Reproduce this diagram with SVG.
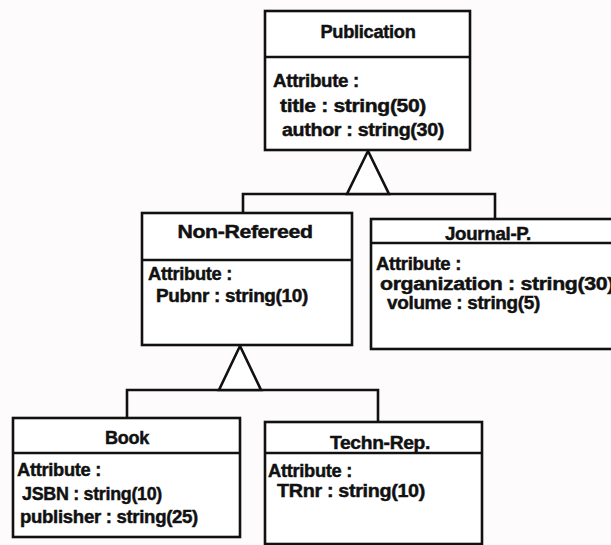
<svg xmlns="http://www.w3.org/2000/svg" width="611" height="545" viewBox="0 0 611 545">
  <style>
    .box { fill: #ffffff; stroke: #111111; stroke-width: 2.6; }
    .div { stroke: #111111; stroke-width: 2.6; fill: none; }
    .conn { stroke: #111111; stroke-width: 2.6; fill: none; stroke-linejoin: miter; }
    .tri { fill: #ffffff; stroke: #111111; stroke-width: 2.6; stroke-linejoin: miter; }
    text { font-family: "Liberation Sans", Arial, sans-serif; font-weight: bold; font-size: 18px; fill: #111111; stroke: #111111; stroke-width: 0.45; letter-spacing: -0.3px; }
    .name { text-anchor: middle; }
  </style>
  <rect width="611" height="545" fill="#fdfbfb"/>

  <!-- generalization connectors -->
  <g id="connectors">
    <polyline class="conn" points="243,213 243,194 495,194 495,219"/>
    <polygon class="tri" points="368,151 347,194 389,194"/>
    <polyline class="conn" points="127,418 127,390 378,390 378,422"/>
    <polygon class="tri" points="240,346 219,390 261,390"/>
  </g>

  <g id="publication">
    <rect class="box" x="265" y="11" width="205" height="139"/>
    <line class="div" x1="265" y1="57" x2="470" y2="57"/>
    <text class="name" x="368" y="38" textLength="95" lengthAdjust="spacingAndGlyphs">Publication</text>
    <text x="273" y="87" textLength="86" lengthAdjust="spacingAndGlyphs">Attribute :</text>
    <text x="280" y="112" textLength="146" lengthAdjust="spacingAndGlyphs">title : string(50)</text>
    <text x="282" y="136" textLength="162" lengthAdjust="spacingAndGlyphs">author : string(30)</text>
  </g>

  <g id="non-refereed">
    <rect class="box" x="142" y="213" width="210" height="132"/>
    <line class="div" x1="142" y1="260" x2="352" y2="260"/>
    <text class="name" x="245" y="238" textLength="135" lengthAdjust="spacingAndGlyphs">Non-Refereed</text>
    <text x="148" y="280" textLength="84" lengthAdjust="spacingAndGlyphs">Attribute :</text>
    <text x="156" y="302" textLength="152" lengthAdjust="spacingAndGlyphs">Pubnr : string(10)</text>
  </g>

  <g id="journal-p">
    <rect class="box" x="371" y="219" width="250" height="130"/>
    <line class="div" x1="371" y1="243" x2="621" y2="243"/>
    <text class="name" x="488" y="240" textLength="86" lengthAdjust="spacingAndGlyphs">Journal-P.</text>
    <text x="376" y="270" textLength="85" lengthAdjust="spacingAndGlyphs">Attribute :</text>
    <text x="380" y="290" textLength="234" lengthAdjust="spacingAndGlyphs">organization : string(30)</text>
    <text x="387" y="309" textLength="153" lengthAdjust="spacingAndGlyphs">volume : string(5)</text>
  </g>

  <g id="book">
    <rect class="box" x="13" y="418" width="227" height="119"/>
    <line class="div" x1="13" y1="453" x2="240" y2="453"/>
    <text class="name" x="127" y="444" textLength="44" lengthAdjust="spacingAndGlyphs">Book</text>
    <text x="17" y="476" textLength="84" lengthAdjust="spacingAndGlyphs">Attribute :</text>
    <text x="22" y="500" textLength="140" lengthAdjust="spacingAndGlyphs">JSBN : string(10)</text>
    <text x="20" y="523" textLength="178" lengthAdjust="spacingAndGlyphs">publisher : string(25)</text>
  </g>

  <g id="techn-rep">
    <rect class="box" x="265" y="422" width="217" height="122"/>
    <line class="div" x1="265" y1="453" x2="482" y2="453"/>
    <text class="name" x="380" y="449" textLength="100" lengthAdjust="spacingAndGlyphs">Techn-Rep.</text>
    <text x="268" y="477" textLength="84" lengthAdjust="spacingAndGlyphs">Attribute :</text>
    <text x="277" y="497" textLength="148" lengthAdjust="spacingAndGlyphs">TRnr : string(10)</text>
  </g>
</svg>
